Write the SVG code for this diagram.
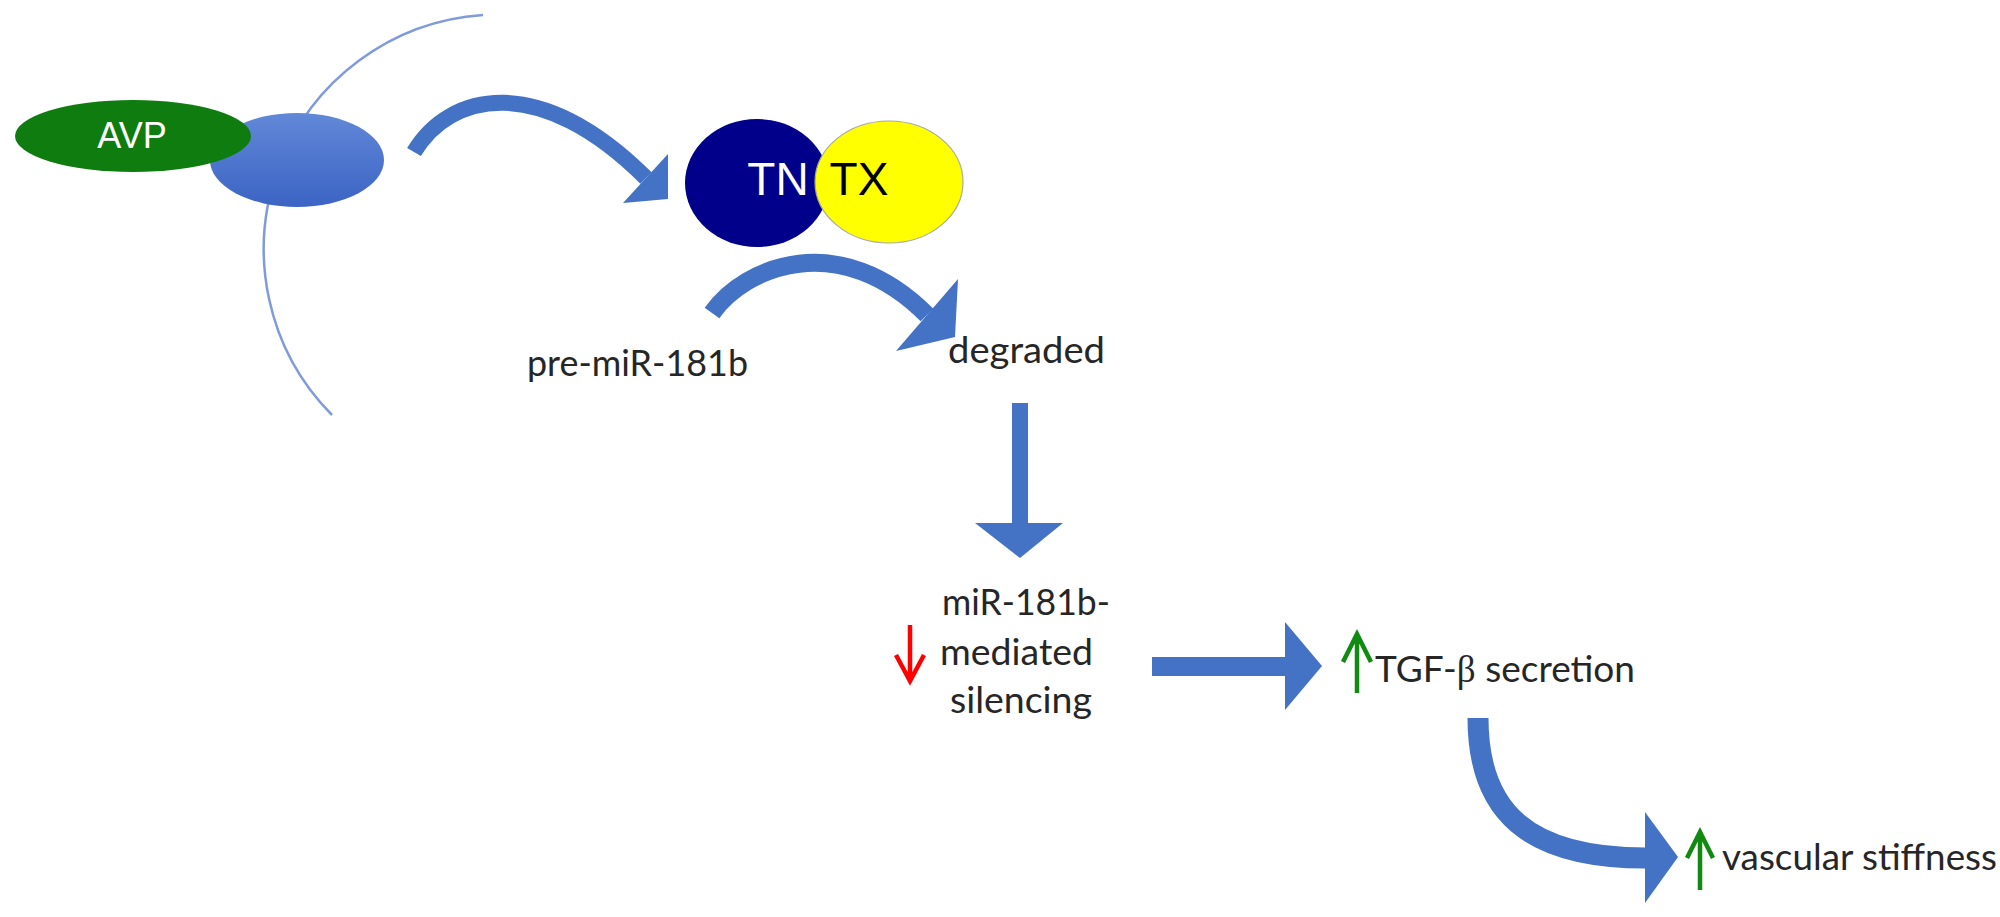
<svg xmlns="http://www.w3.org/2000/svg" width="2000" height="917" viewBox="0 0 2000 917">
  <style>
    .lbl { font-family: Lato, "Liberation Sans", sans-serif; font-size: 37px; fill: #262626; }
    .big { font-family: "Liberation Sans", Arial, sans-serif; font-size: 46px; }
    .shaft { fill: none; stroke: #4472C4; stroke-linecap: butt; }
    .head { fill: #4472C4; }
    .up { fill: none; stroke: #108a10; stroke-width: 4.5; stroke-linejoin: miter; }
    .down { fill: none; stroke: #ff0000; stroke-width: 4.5; stroke-linejoin: miter; }
  </style>
  <defs>
    <linearGradient id="rg" x1="0" y1="0" x2="0" y2="1">
      <stop offset="0" stop-color="#6288d8"/>
      <stop offset="1" stop-color="#3b64c4"/>
    </linearGradient>
  </defs>
  <rect width="2000" height="917" fill="#ffffff"/>

  <g id="membrane">
    <path d="M483,15 A235,235 0 0 0 332,415" fill="none" stroke="#7f9bdc" stroke-width="2.5"/>
  </g>
  <g id="receptor">
    <ellipse cx="297" cy="160" rx="87" ry="47" fill="url(#rg)"/>
  </g>
  <g id="avp">
    <ellipse cx="133" cy="136" rx="118" ry="36" fill="#0e7c0e"/>
    <text x="132" y="148" text-anchor="middle" font-family="Liberation Sans, Arial, sans-serif" font-size="36" fill="#ffffff">AVP</text>
  </g>
  <g id="tn">
    <ellipse cx="757" cy="183" rx="72" ry="64" fill="#00008b"/>
    <text class="big" x="778" y="195" text-anchor="middle" fill="#ffffff">TN</text>
  </g>
  <g id="tx">
    <ellipse cx="889" cy="182" rx="74" ry="61" fill="#ffff00" stroke="#a8a8a8" stroke-width="1.2"/>
    <text class="big" x="859" y="195" text-anchor="middle" fill="#000000">TX</text>
  </g>

  <g id="pre-mir">
    <text class="lbl" x="527" y="376" textLength="221" lengthAdjust="spacingAndGlyphs">pre-miR-181b</text>
  </g>
  <g id="degraded">
    <text class="lbl" x="948" y="363" textLength="157" lengthAdjust="spacingAndGlyphs">degraded</text>
  </g>
  <g id="silencing">
    <text class="lbl" x="942" y="615" textLength="168" lengthAdjust="spacingAndGlyphs">miR-181b-</text>
    <text class="lbl" x="940" y="665" textLength="153" lengthAdjust="spacingAndGlyphs">mediated</text>
    <text class="lbl" x="950" y="713" textLength="142" lengthAdjust="spacingAndGlyphs">silencing</text>
    <path class="down" d="M910,625 V679 M896,655 L910,681 L924,655"/>
  </g>
  <g id="tgf">
    <path class="up" d="M1357,693 V637 M1343,662 L1357,634 L1371,662"/>
    <text class="lbl" x="1375" y="682" textLength="260" lengthAdjust="spacingAndGlyphs">TGF-<tspan font-family="Liberation Serif, serif">β</tspan> secretion</text>
  </g>
  <g id="stiffness">
    <path class="up" d="M1700,890 V836 M1687,858 L1700,832 L1713,858"/>
    <text class="lbl" x="1722" y="870" textLength="275" lengthAdjust="spacingAndGlyphs">vascular stiffness</text>
  </g>

  <g id="connectors">
    <path class="shaft" stroke-width="16" d="M414,152 C450,92 540,72 646,178"/>
    <polygon class="head" points="668,154 668,199 623,203"/>
    <path class="shaft" stroke-width="18" d="M712,313 C745,266 840,228 927,315"/>
    <polygon class="head" points="958,279 955,337 896,351"/>
    <rect class="head" x="1012" y="403" width="16" height="121"/>
    <polygon class="head" points="975,523 1063,523 1020,558"/>
    <rect class="head" x="1152" y="657" width="134" height="19"/>
    <polygon class="head" points="1285,622 1322,666 1285,710"/>
    <path class="shaft" stroke-width="21" d="M1478,718 C1478,812 1528,858 1646,858"/>
    <polygon class="head" points="1645,812 1678,857 1645,903"/>
  </g>
</svg>
